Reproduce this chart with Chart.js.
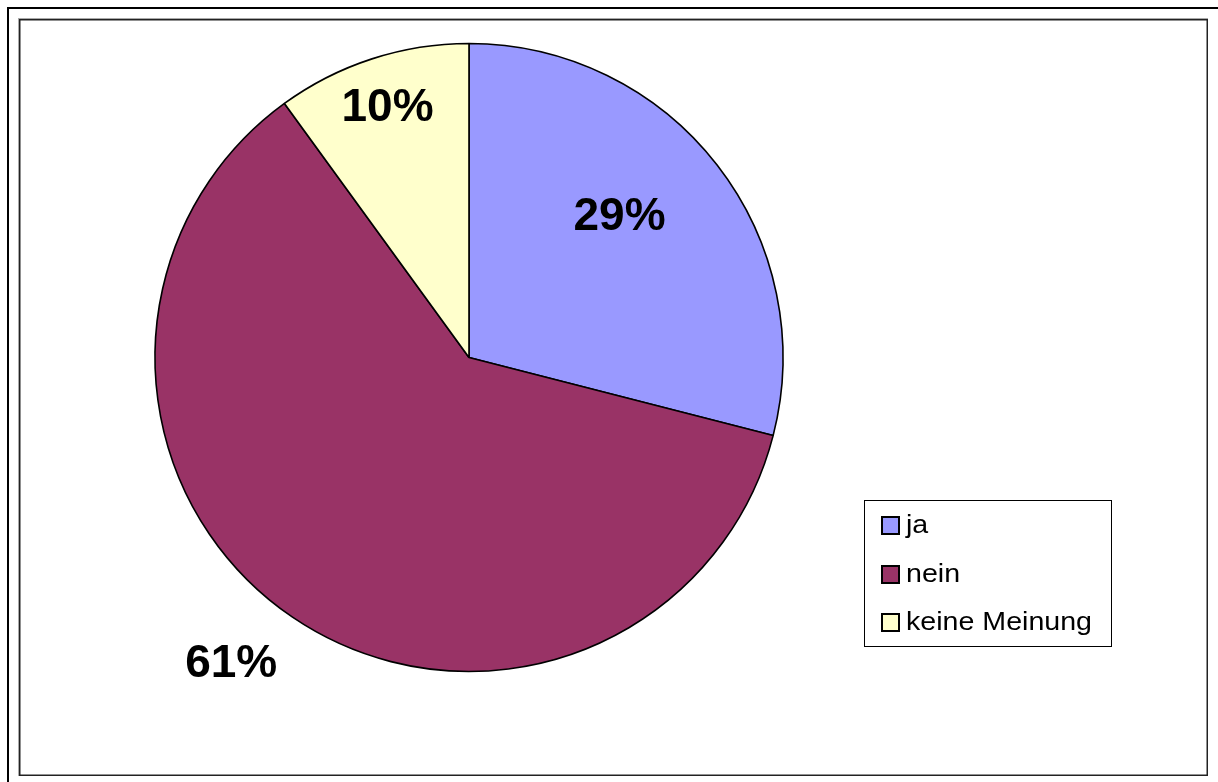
<!DOCTYPE html>
<html>
<head>
<meta charset="utf-8">
<script src="https://cdn.jsdelivr.net/npm/chart.js@4/dist/chart.umd.min.js"></script>
<style>
  html, body { margin: 0; padding: 0; background: #fff; }
  #wrap { width: 1218px; height: 782px; }
</style>
</head>
<body>
<div id="wrap"><canvas id="myChart" width="1218" height="782"></canvas></div>
<script>
// Werte aus der Grafik
const kategorien = ['ja', 'nein', 'keine Meinung'];
const anteile = [29, 61, 10];
const farben = ['#9999FF', '#993366', '#FFFFCC'];

// Position der Prozentzahlen (Faktor des Radius, Winkelkorrektur in Grad)
const labelRadius = [0.66, 1.23, 0.84];
const labelDreh = [-5.6, 3.8, 0];

const rahmen = {
  id: 'rahmen',
  beforeDraw(chart) {
    const ctx = chart.ctx;
    ctx.save();
    ctx.fillStyle = '#fff';
    ctx.fillRect(0, 0, chart.width, chart.height);
    // aeusserer Rahmen (rechts/unten abgeschnitten)
    ctx.strokeStyle = '#000';
    ctx.lineWidth = 2;
    ctx.strokeRect(8, 8, 1240, 800);
    // innerer Rahmen mit Schatten
    ctx.strokeStyle = '#aaa';
    ctx.lineWidth = 1;
    ctx.strokeRect(18.5, 18.5, 1189, 757);
    ctx.strokeStyle = '#222';
    ctx.lineWidth = 1.5;
    ctx.strokeRect(19.75, 19.75, 1187.5, 755.5);
    ctx.restore();
  },
  afterDraw(chart) {
    const ctx = chart.ctx;
    const meta = chart.getDatasetMeta(0);
    ctx.save();
    // Prozentzahlen
    ctx.font = 'bold 46px "Liberation Sans", Arial, sans-serif';
    ctx.fillStyle = '#000';
    ctx.textAlign = 'center';
    ctx.textBaseline = 'middle';
    const total = anteile.reduce((a, b) => a + b, 0);
    meta.data.forEach(function (arc, i) {
      const p = arc.getProps(['x', 'y', 'startAngle', 'endAngle', 'outerRadius'], true);
      const mitte = (p.startAngle + p.endAngle) / 2 + labelDreh[i] * Math.PI / 180;
      const r = p.outerRadius * labelRadius[i];
      const txt = Math.round(anteile[i] / total * 100) + '%';
      ctx.fillText(txt, p.x + r * Math.cos(mitte), p.y + r * Math.sin(mitte) + 2);
    });
    // Legende
    ctx.strokeStyle = '#000';
    ctx.lineWidth = 1;
    ctx.fillStyle = '#fff';
    ctx.fillRect(864.5, 500.5, 247, 146);
    ctx.strokeRect(864.5, 500.5, 247, 146);
    ctx.font = '26px "Liberation Sans", Arial, sans-serif';
    ctx.textAlign = 'left';
    const zeilen = [525, 574, 622];
    kategorien.forEach(function (name, i) {
      const y = zeilen[i];
      ctx.fillStyle = farben[i];
      ctx.fillRect(882, y - 8, 17, 17);
      ctx.lineWidth = 2;
      ctx.strokeStyle = '#000';
      ctx.strokeRect(882, y - 8, 17, 17);
      ctx.fillStyle = '#000';
      ctx.save();
      ctx.translate(906, y + 1);
      ctx.scale(1.1, 1);
      ctx.fillText(name, 0, 0);
      ctx.restore();
    });
    ctx.restore();
  }
};

const data = {
  labels: kategorien,
  datasets: [{
    data: anteile,
    backgroundColor: farben,
    borderColor: '#000',
    borderWidth: 1.6,
    hoverOffset: 0
  }]
};

const config = {
  type: 'pie',
  data: data,
  options: {
    responsive: false,
    animation: false,
    radius: 314,
    layout: { padding: { left: 140, right: 420, top: 31, bottom: 98 } },
    plugins: {
      legend: { display: false },
      tooltip: { enabled: false }
    }
  },
  plugins: [rahmen]
};

const myChart = new Chart(document.getElementById('myChart'), config);
</script>
</body>
</html>
